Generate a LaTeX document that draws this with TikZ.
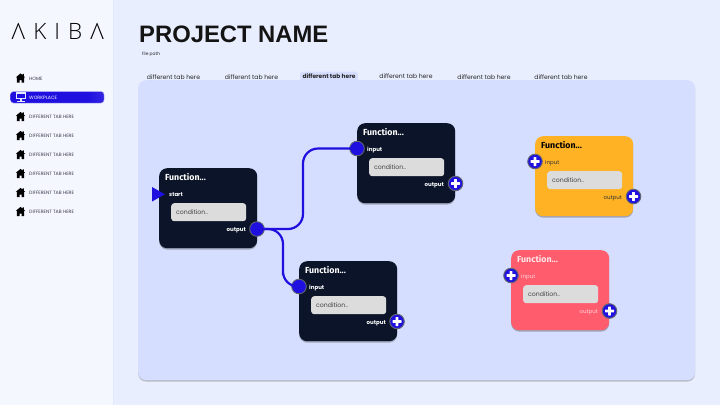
\documentclass[tikz,border=0pt]{standalone}
\usepackage{fontspec}
\setmainfont{Poppins}
\newfontfamily\headfont{Liberation Sans}
\newfontfamily\logofont[LetterSpace=36]{Open Sans Light}
\newfontfamily\cardfont{Fira Sans}
\usetikzlibrary{shadows,calc}
\definecolor{sidebg}{HTML}{F5F7FF}
\definecolor{mainbg}{HTML}{E9EEFF}
\definecolor{panelbg}{HTML}{D5DEFF}
\definecolor{wireblue}{HTML}{1F10E0}
\definecolor{darkcard}{HTML}{0B1428}
\definecolor{orangecard}{HTML}{FFB224}
\definecolor{redcard}{HTML}{FF5C6E}
\definecolor{condbg}{HTML}{DCDCDC}
\definecolor{labelgrey}{HTML}{3A3A48}
\pgfdeclarehorizontalshading{pillshade}{100bp}{
  color(0bp)=(wireblue); color(66bp)=(wireblue); color(82bp)=(wireblue!85!white); color(100bp)=(wireblue!50!white)}
\tikzset{
  cardbox/.style={draw=none,rounded corners=8pt,minimum width=98pt,minimum height=80pt,anchor=north west,inner sep=0pt,
    drop shadow={shadow xshift=0pt,shadow yshift=-1.4pt,opacity=.4,fill=black!70}},
  condbox/.style={fill=condbg,rounded corners=3pt,minimum width=75pt,minimum height=18pt,anchor=north west,inner sep=0pt},
  title/.style={font=\cardfont\bfseries\fontsize{8.8}{9}\selectfont,anchor=mid west,inner sep=0pt},
  cond/.style={font=\fontsize{6.2}{7}\selectfont,text=black!75,anchor=mid west,inner sep=0pt},
  port/.style={circle,fill=wireblue,draw=black!55!panelbg,line width=1pt,minimum size=14.5pt,inner sep=0pt},
  portcore/.style={circle,fill=wireblue,minimum size=13pt,inner sep=0pt},
  wire/.style={draw=wireblue,line width=2.2pt,rounded corners=15pt},
  tabtext/.style={font=\fontsize{6.1}{7}\selectfont,text=black!85,inner sep=0pt},
  sidetext/.style={font=\fontsize{4.7}{5}\selectfont,text=labelgrey,anchor=mid west,inner sep=0pt},
}
% house icon
\newcommand{\houseicon}[3]{%
  \fill[#3] (#1,#2-4.6) -- (#1+2.2,#2-2.8) -- (#1+2.2,#2-4.2) -- (#1+3.4,#2-4.2) -- (#1+3.4,#2-1.8) -- (#1+4.7,#2-.6) -- (#1+3.6,#2-.6) -- (#1+3.6,#2+4.5) -- (#1+1,#2+4.5) -- (#1+1,#2+2) -- (#1-1,#2+2) -- (#1-1,#2+4.5) -- (#1-3.6,#2+4.5) -- (#1-3.6,#2-.6) -- (#1-4.7,#2-.6) -- cycle;}
% plus sign
\newcommand{\plusport}[3]{%
  \node[port] (#1) at (#2,#3) {};
  \fill[white,rounded corners=.5pt] (#2-4.5,#3-1.4) rectangle (#2+4.5,#3+1.4);
  \fill[white,rounded corners=.5pt] (#2-1.4,#3-4.5) rectangle (#2+1.4,#3+4.5);}
% card: name, x, y, fill, title colour, label colour, input text, series
\newcommand{\fncard}[8]{%
  \node[cardbox,fill=#4] (#1) at (#2,#3) {};
  \node[title,text=#5] (#1t) at (#2+6,#3+9.5) {Function...};
  \node[font=#8\fontsize{5.5}{6}\selectfont,inner sep=0pt,text=#6,anchor=mid west] (#1i) at (#2+10,#3+26) {#7};
  \node[condbox] (#1c) at (#2+12,#3+35) {};
  \node[cond] (#1d) at (#2+17,#3+44) {condition..};
  \node[font=#8\fontsize{5.5}{6}\selectfont,inner sep=0pt,text=#6,anchor=mid east] (#1o) at (#2+87,#3+61) {output};}
\begin{document}
\begin{tikzpicture}[x=1pt,y=-1pt]
\useasboundingbox (0,0) rectangle (720,405);
\fill[mainbg] (0,0) rectangle (720,405);
\fill[sidebg] (0,0) rectangle (113,405);
\draw[panelbg!70!white,line width=.5pt] (113,0) -- (113,405);
% logo
\node[font=\logofont\fontsize{22.5}{24}\selectfont,text=black,anchor=base west,inner sep=0pt] (logo) at (11.5,39) {ΛKIBΛ};
% sidebar
\houseicon{20.5}{78}{black}
\node[sidetext] (s0) at (29,78) {HOME};
\shade[shading=pillshade,rounded corners=3pt,draw=wireblue!40!white,line width=.4pt] (10.5,91.5) rectangle (104,103);
\fill[panelbg!70!white] (15.5,92.3) rectangle (26,99.3);
\fill[wireblue] (17,93.6) rectangle (24.5,98);
\fill[panelbg!70!white] (19.8,99.3) rectangle (21.7,100.8);
\fill[panelbg!70!white] (17,100.6) rectangle (24.5,101.6);
\node[sidetext,text=white] (s1) at (29,97) {WORKPLACE};
\foreach \yy/\nn in {116/s2,135/s3,154/s4,173/s5,192/s6,211/s7}{
  \houseicon{20.5}{\yy+.5}{black}
  \node[sidetext] (\nn) at (29,\yy) {DIFFERENT TAB HERE};
}
% header
\node[font=\headfont\bfseries\fontsize{23.8}{26}\selectfont,text=black!92,anchor=base west,inner sep=0pt] (proj) at (139,42.6) {PROJECT NAME};
\node[font=\fontsize{4.4}{5}\selectfont,text=black!85,anchor=mid west,inner sep=0pt] (path) at (142,53) {file path};
% tabs
\fill[panelbg,rounded corners=3pt] (300,71.5) rectangle (358,84);
\node[tabtext] (t1) at (173.5,77) {different tab here};
\node[tabtext] (t2) at (251.5,77) {different tab here};
\node[tabtext,font=\bfseries\fontsize{5.9}{7}\selectfont] (t3) at (329,76.3) {different tab here};
\node[tabtext] (t4) at (406,76.3) {different tab here};
\node[tabtext] (t5) at (484,77) {different tab here};
\node[tabtext] (t6) at (561,77) {different tab here};
% panel
\node[fill=panelbg,rounded corners=8pt,minimum width=557pt,minimum height=300pt,anchor=north west,inner sep=0pt,
  drop shadow={shadow xshift=0pt,shadow yshift=-1.4pt,opacity=.45,fill=black!50}] (panel) at (138,80) {};
% cards
\fncard{a}{159}{168}{darkcard}{white}{white}{start}{\bfseries}
\fncard{b}{357}{123}{darkcard}{white}{white}{input}{\bfseries}
\fncard{c}{299}{261}{darkcard}{white}{white}{input}{\bfseries}
\fncard{d}{535}{136}{orangecard}{black}{black!80}{input}{}
\fncard{e}{511}{250}{redcard}{white!85!redcard}{white!75!redcard}{input}{}
% ports
\node[port] (aout) at (257,229) {};
\node[port] (bin) at (357,148.5) {};
\node[port] (cin) at (299,286.5) {};
\fill[wireblue] (152,187) -- (165,194.3) -- (152,201.5) -- cycle;
\plusport{bout}{455.5}{183.5}
\plusport{cout}{397}{321.5}
\plusport{din}{535}{161.5}
\plusport{dout}{633.5}{196.5}
\plusport{ein}{511}{275.5}
\plusport{eout}{609.5}{311}
% wires
\coordinate (bend1) at (303,190);
\coordinate (bend2) at (283,260);
\draw[wire] (aout.center) -| (bend1) |- (bin.center);
\draw[wire] (aout.center) -| (bend2) |- (cin.center);
\node[portcore] (aout2) at (aout) {};
\node[portcore] (bin2) at (bin) {};
\node[portcore] (cin2) at (cin) {};
\end{tikzpicture}
\end{document}
